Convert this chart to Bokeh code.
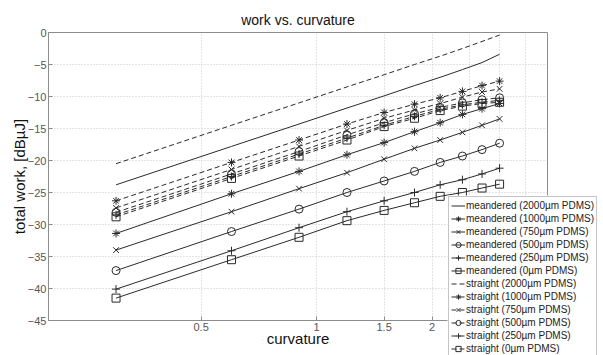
from bokeh.plotting import figure
from bokeh.layouts import column
from bokeh.models import FixedTicker, Legend, LegendItem
from bokeh.embed import file_html
from bokeh.resources import INLINE

# ---- data ----
curvature = [0.3, 0.6, 0.9, 1.2, 1.5, 1.8, 2.1, 2.4, 2.7, 3.0]

meandered_2000 = [-23.8, -17.8, -14.3, -11.8, -9.9, -8.3, -7.0, -5.8, -4.7, -3.4]
meandered_1000 = [-31.4, -25.2, -21.7, -19.1, -17.2, -15.5, -14.1, -12.8, -11.9, -11.1]
meandered_750 = [-34.0, -28.0, -24.4, -21.9, -19.8, -18.1, -16.8, -15.6, -14.5, -13.5]
meandered_500 = [-37.2, -31.1, -27.6, -25.0, -23.2, -21.7, -20.3, -19.3, -18.3, -17.3]
meandered_250 = [-40.1, -34.1, -30.5, -28.0, -26.3, -25.0, -23.8, -23.0, -22.1, -21.2]
meandered_0 = [-41.5, -35.5, -32.0, -29.4, -27.8, -26.6, -25.6, -25.0, -24.3, -23.7]

straight_2000 = [-20.5, -14.5, -11.0, -8.5, -6.6, -5.0, -3.7, -2.5, -1.4, -0.4]
straight_1000 = [-26.3, -20.3, -16.8, -14.3, -12.5, -11.2, -10.2, -9.2, -8.3, -7.6]
straight_750 = [-27.4, -21.4, -17.8, -15.3, -13.4, -12.1, -11.1, -10.1, -9.3, -8.8]
straight_500 = [-28.1, -22.1, -18.6, -16.0, -14.1, -12.7, -11.7, -11.0, -10.5, -10.2]
straight_250 = [-28.5, -22.5, -19.0, -16.5, -14.5, -13.1, -12.0, -11.3, -10.9, -10.6]
straight_0 = [-28.8, -22.8, -19.3, -16.8, -14.7, -13.4, -12.2, -11.5, -11.1, -10.9]

labels = [
    "meandered (2000\u00b5m PDMS)", "meandered (1000\u00b5m PDMS)", "meandered (750\u00b5m PDMS)",
    "meandered (500\u00b5m PDMS)", "meandered (250\u00b5m PDMS)", "meandered (0\u00b5m PDMS)",
    "straight (2000\u00b5m PDMS)", "straight (1000\u00b5m PDMS)", "straight (750\u00b5m PDMS)",
    "straight (500\u00b5m PDMS)", "straight (250\u00b5m PDMS)", "straight (0\u00b5m PDMS)",
]
values = [meandered_2000, meandered_1000, meandered_750, meandered_500, meandered_250, meandered_0,
          straight_2000, straight_1000, straight_750, straight_500, straight_250, straight_0]
markers = [None, "asterisk", "x", "circle", "cross", "square"] * 2
dashes = ["solid"] * 6 + ["5 3"] * 6

x_ticks = [0.5, 1, 1.5, 2, 2.5, 3, 3.5]
x_tick_labels = ["0.5", "1", "1.5", "2", "2.5", "3", "3.5"]
y_ticks = [0, -5, -10, -15, -20, -25, -30, -35, -40, -45]

FONT = "Liberation Sans"
INK = "#2a2a2a"
AXC = "#8c8c8c"

p = figure(width=603, height=355, x_axis_type="log", x_range=(0.2, 4), y_range=(-45, 0),
           output_backend="svg", toolbar_location=None, title="work vs. curvature",
           min_border_left=48, min_border_right=56, min_border_top=32, min_border_bottom=35)
p.frame_align = False

p.title.align = "center"
p.title.text_font = FONT
p.title.text_font_size = "14px"
p.title.text_font_style = "normal"
p.title.text_color = "#111111"
p.title.standoff = 10

p.outline_line_color = AXC
p.background_fill_color = "white"
p.border_fill_color = "white"

p.xaxis.ticker = FixedTicker(ticks=x_ticks)
p.xaxis.major_label_overrides = {t: l for t, l in zip(x_ticks, x_tick_labels)}
p.yaxis.ticker = FixedTicker(ticks=y_ticks)

for ax in (p.xaxis, p.yaxis):
    ax.axis_line_color = AXC
    ax.major_tick_line_color = AXC
    ax.major_tick_in = 4
    ax.major_tick_out = 0
    ax.minor_tick_line_color = None
    ax.major_label_text_font = FONT
    ax.major_label_text_font_size = "11px"
    ax.major_label_text_color = "#555555"
    ax.major_label_standoff = 2
    ax.axis_label_text_font = FONT
    ax.axis_label_text_font_size = "15px"
    ax.axis_label_text_font_style = "normal"
    ax.axis_label_text_color = "#111111"

p.xaxis.axis_label_standoff = -4
p.yaxis.axis_label_standoff = -3
p.xaxis.axis_label = "curvature"
p.yaxis.axis_label = "total work, [dB\u00b5J]"

for g in (p.xgrid, p.ygrid):
    g.grid_line_color = "#c8c8c8"
    g.grid_line_dash = "1 2"
    g.grid_line_width = 1

# small legend-only figure laid over the lower right corner of the chart,
# so the legend can overflow the axes box as in the reference
lg = figure(width=156, height=160, x_range=(100, 101), y_range=(100, 101),
            output_backend="svg", toolbar_location=None,
            x_axis_location=None, y_axis_location=None, min_border=0)
lg.frame_align = False
lg.outline_line_color = None
lg.grid.visible = False
lg.background_fill_color = "white"
lg.border_fill_color = "white"
lg.margin = (-160, 0, 0, 447)

items = []
for lab, vals, mk, ds in zip(labels, values, markers, dashes):
    p.line(curvature, vals, line_color=INK, line_width=1, line_dash=ds)
    rs = [lg.line(curvature, vals, line_color=INK, line_width=1, line_dash=ds)]
    if mk is not None:
        p.scatter(curvature, vals, marker=mk, size=8, line_color=INK,
                  fill_color=None, line_width=1)
        rs.append(lg.scatter(curvature, vals, marker=mk, size=7, line_color=INK,
                             fill_color=None, line_width=1))
    items.append(LegendItem(label=lab, renderers=rs))

legend = Legend(items=items, location="top_left",
                label_text_font=FONT, label_text_font_size="10px", label_text_color="#222222",
                glyph_width=14, glyph_height=13, label_height=13, label_standoff=1,
                spacing=0, padding=2, margin=1,
                border_line_color=AXC, background_fill_color="white", background_fill_alpha=1.0)
lg.add_layout(legend, "center")

layout = column(p, lg, spacing=0)
open("out.html", "w").write(file_html(layout, INLINE))
